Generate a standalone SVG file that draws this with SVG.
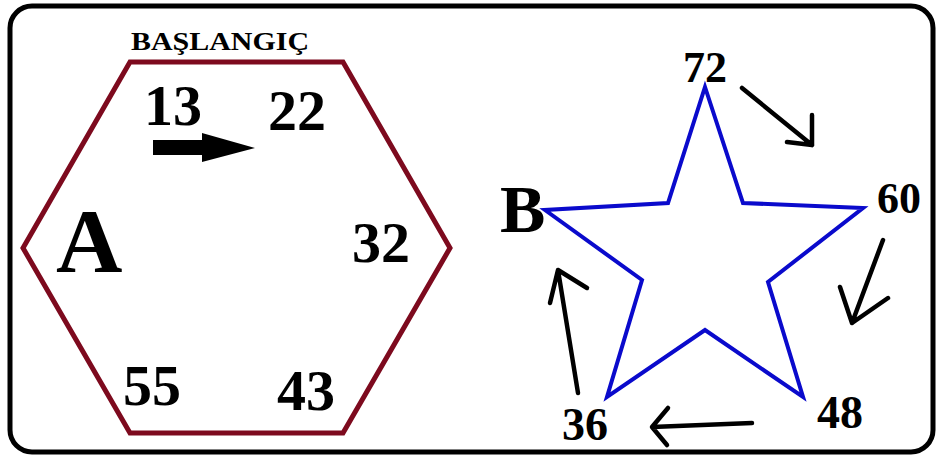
<svg xmlns="http://www.w3.org/2000/svg" width="938" height="458" viewBox="0 0 938 458">
<style>
.t{font-family:"Liberation Serif","Times New Roman",serif;font-weight:bold;fill:#000}
.hex{fill:none;stroke:#7d0a1e;stroke-width:5;stroke-linejoin:miter}
.star{fill:none;stroke:#0a0acc;stroke-width:4;stroke-linejoin:miter}
.hand{fill:none;stroke:#000;stroke-width:4.5;stroke-linecap:round;stroke-linejoin:round}
</style>
<rect x="10" y="6" width="923" height="446" rx="22" ry="22" fill="#fff" stroke="#000" stroke-width="5"/>
<g id="hexagon">
<polygon class="hex" points="130,62 343,62 450,248 343,433 130,433 23,248"/>
<text class="t" x="131" y="50" font-size="26" textLength="178" lengthAdjust="spacingAndGlyphs">BAŞLANGIÇ</text>
<text class="t" x="56" y="272" font-size="92">A</text>
<text class="t" x="144" y="125" font-size="58">13</text>
<text class="t" x="268" y="130" font-size="58">22</text>
<text class="t" x="352" y="262" font-size="58">32</text>
<text class="t" x="277" y="410" font-size="58">43</text>
<text class="t" x="123" y="405" font-size="58">55</text>
</g>
<g id="star">
<polygon class="star" points="705,87 743,203 863,208 768,282 803,397 705,330 607,397 642,280 545,210 668,203"/>
<text class="t" x="500" y="232" font-size="68">B</text>
<text class="t" x="683" y="82" font-size="44">72</text>
<text class="t" x="877" y="213" font-size="44">60</text>
<text class="t" x="817" y="428" font-size="46">48</text>
<text class="t" x="562" y="440" font-size="46">36</text>
</g>
<g id="connectors">
<path d="M153,140 L202,140 L202,133 L255,148 L202,162 L202,155 L153,155 Z" fill="#000"/>
<path class="hand" d="M742,88 L812,145 M812,115 L812,145 L787,142"/>
<path class="hand" d="M883,240 L852,323 M840,287 L852,323 L888,298"/>
<path class="hand" d="M752,423 L652,427 M668,408 L652,427 L667,445"/>
<path class="hand" d="M578,393 L558,270 M550,303 L558,270 L587,288"/>
</g>
</svg>
